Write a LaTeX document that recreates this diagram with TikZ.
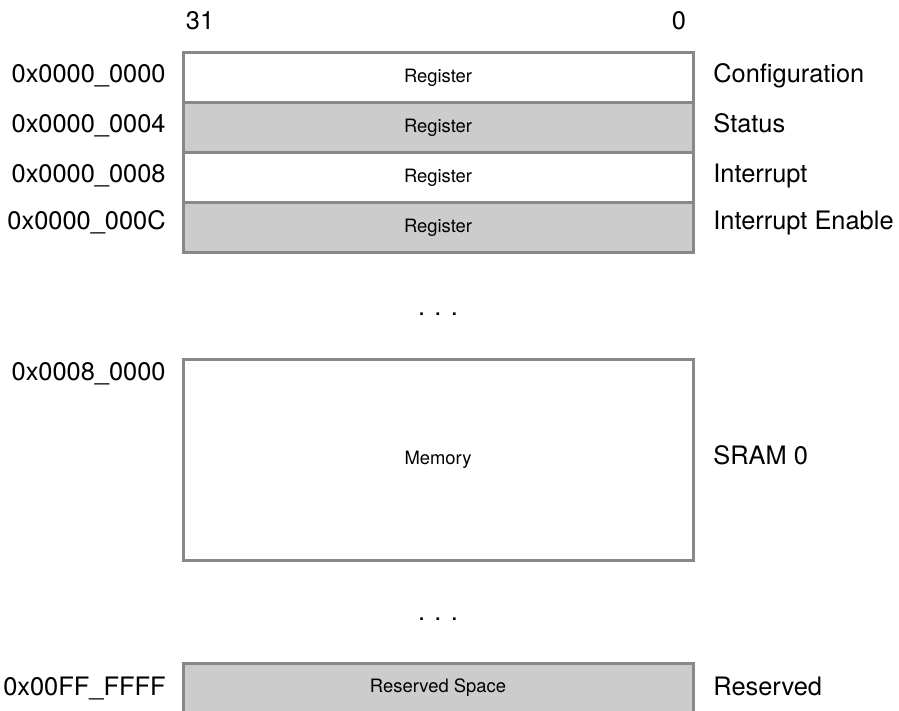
\documentclass[tikz,border=0pt]{standalone}
\usepackage{fontspec}
\setmainfont{TeX Gyre Heros}
\usetikzlibrary{positioning}
\definecolor{regfill}{HTML}{CCCCCC}
\definecolor{regline}{HTML}{888888}
\begin{document}
\begin{tikzpicture}[x=0.5pt,y=-0.5pt,
  cell/.style={draw=regline, line width=1.5pt, fill=white,
    minimum width=255pt, minimum height=25pt, outer sep=0pt, inner sep=0pt,
    font=\fontsize{9.2}{11}\selectfont},
  greycell/.style={cell, fill=regfill},
  txt/.style={font=\fontsize{12.7}{15}\selectfont, inner sep=0pt,
    text height=0.72em, text depth=0.22em},
  addr/.style={txt},
  regname/.style={txt}]
  % page and margins
  \path[use as bounding box, fill=white] (0,0) rectangle (899,711);
  \clip (0,0) rectangle (899,711);

  % bit numbers
  \node[txt] (msb) at (200,25) {31};
  \node[txt] (lsb) at (679,25) {0};

  % register block
  \node[cell] (r1) at (438,78) {Register};
  \node[greycell, below=0pt of r1] (r2) {Register};
  \node[cell, below=0pt of r2] (r3) {Register};
  \node[greycell, below=0pt of r3] (r4) {Register};

  \node[addr, left=8.5pt of r1] (a1) {0x0000\_0000};
  \node[addr, left=8.5pt of r2] (a2) {0x0000\_0004};
  \node[addr, left=8.5pt of r3] (a3) {0x0000\_0008};
  \node[addr, left=8.5pt of r4, yshift=1.5pt] (a4) {0x0000\_000C};

  \node[regname, right=10pt of r1] (n1) {Configuration};
  \node[regname, right=10pt of r2] (n2) {Status};
  \node[regname, right=10pt of r3] (n3) {Interrupt};
  \node[regname, right=10pt of r4, yshift=1.5pt] (n4) {Interrupt Enable};

  \node[txt] (gap1) at (438,310) {. . .};

  % memory block
  \node[cell, minimum height=100.5pt] (mem) at (438,459.5) {Memory};
  \node[addr, below left=3.5pt and 8.5pt of mem.north west] (a5) {0x0008\_0000};
  \node[regname, right=10pt of mem] (n5) {SRAM 0};

  \node[txt] (gap2) at (438,615) {. . .};

  % reserved block
  \node[greycell] (rsv) at (438,688) {Reserved Space};
  \node[addr, left=8.5pt of rsv, yshift=-1pt] (a6) {0x00FF\_FFFF};
  \node[regname, right=10pt of rsv, yshift=-1pt] (n6) {Reserved};
\end{tikzpicture}
\end{document}
